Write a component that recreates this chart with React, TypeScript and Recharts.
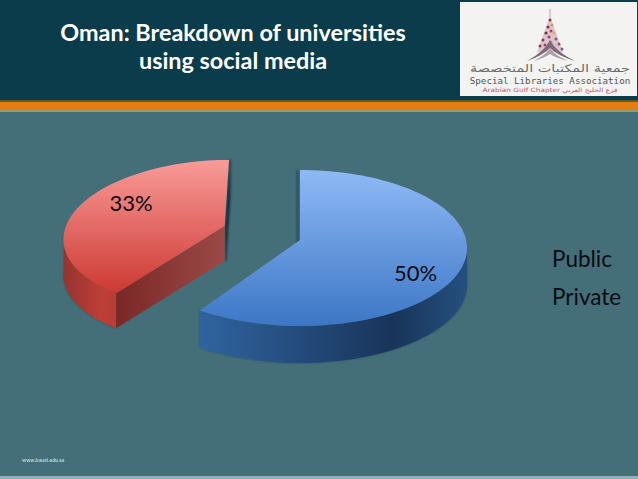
import React from "react";
import { PieChart, Pie, Cell, Legend } from "recharts";

const categories = ["Public", "Private"];
const seriesValues = [50, 33];
const tableData = categories.map((name, i) => ({ name, value: seriesValues[i] }));

const ASPECT = 0.467;
const sliceLook = [
  { offX: 0, offY: 0, rxScale: 1, ryScale: 1, shear: 0, apexDx: 0, depth: 37, backDx: -2.5, top: ["#8fb9f5", "#3c77c6"], wall: ["#30649f", "#19345a", "#25507f"], cut: ["#1d3a60", "#1d3a60"], labelDy: 6, labelR: 0.73 },
  { offX: -82.5, offY: -14, rxScale: 0.92, ryScale: 0.95, shear: 0.155, apexDx: 6, depth: 35, backDx: 1, top: ["#f99b98", "#cd3932"], wall: ["#96332e", "#bd3f37", "#b93c35"], cut: ["#7a2826", "#9c4a47"], labelDy: -18.5, labelR: 0.545 },
];

function SliceShape(props: any) {
  const { cx, cy, outerRadius, startAngle, endAngle, index } = props;
  const look = sliceLook[index];
  const rx = outerRadius * look.rxScale;
  const ry = outerRadius * ASPECT * look.ryScale;
  const ex = cx + look.offX;
  const ey = cy + look.offY;
  const apexY = ey - 8;
  const DEPTH = look.depth;
  const at = (deg: number, d = 0): [number, number] => {
    const a = (deg * Math.PI) / 180;
    const y = ey - ry * Math.sin(a);
    return [ex + rx * Math.cos(a) - look.shear * (y - ey), y + d];
  };
  const apex = (d = 0): [number, number] => [ex - look.shear * (apexY - ey) + look.apexDx, apexY + d];
  const arc = (from: number, to: number, d = 0) => {
    const pts: [number, number][] = [];
    const n = Math.max(2, Math.ceil(Math.abs(to - from) / 2));
    for (let i = 0; i <= n; i++) pts.push(at(from + ((to - from) * i) / n, d));
    return pts;
  };
  const toPath = (pts: [number, number][]) =>
    "M" + pts.map((p) => `${p[0].toFixed(1)},${p[1].toFixed(1)}`).join("L") + "Z";

  const hi = Math.max(startAngle, endAngle);
  const lo = Math.min(startAngle, endAngle);
  const topPts = [apex(), ...arc(hi, lo)];
  const frontFrom = Math.min(hi, 0);
  const frontTo = Math.max(lo, -180);
  const rimTop = arc(frontFrom, frontTo);
  const rimBottom = arc(frontTo, frontFrom, DEPTH);
  const rimXs = rimTop.map((p) => p[0]);
  const id = `s${index}`;
  const hasCut = index === 1;
  const corner = at(hi);
  const cutPts: [number, number][] = [apex(), corner, [corner[0], corner[1] + DEPTH], apex(DEPTH)];
  const backEdge = index === 0 ? at(hi) : at(lo);
  return (
    <g>
      <defs>
        <linearGradient id={`${id}t`} gradientUnits="userSpaceOnUse" x1="0" x2="0" y1={ey - ry} y2={index === 0 ? ey + ry : corner[1]}>
          <stop offset="0" stopColor={look.top[0]} />
          <stop offset="1" stopColor={look.top[1]} />
        </linearGradient>
        <linearGradient id={`${id}w`} gradientUnits="userSpaceOnUse" y1="0" y2="0" x1={Math.min(...rimXs)} x2={Math.max(...rimXs)}>
          <stop offset="0" stopColor={look.wall[0]} />
          <stop offset="0.72" stopColor={look.wall[1]} />
          <stop offset="1" stopColor={look.wall[2]} />
        </linearGradient>
        <linearGradient id={`${id}c`} gradientUnits="userSpaceOnUse" y1="0" y2="0" x1={corner[0]} x2={apex()[0]}>
          <stop offset="0" stopColor={look.cut[0]} />
          <stop offset="1" stopColor={look.cut[1]} />
        </linearGradient>
        <filter id={`${id}b`} filterUnits="userSpaceOnUse" x="0" y="0" width="638" height="479">
          <feGaussianBlur stdDeviation="1.2" />
        </filter>
      </defs>
      <path
        d={toPath([apex(), backEdge, [backEdge[0], backEdge[1] + DEPTH], apex(DEPTH)])}
        fill="#132a38"
        stroke="#132a38"
        strokeWidth={1}
        transform={`translate(${look.backDx},0)`}
        filter={`url(#${id}b)`}
      />
      <path d={toPath([...rimTop, ...rimBottom])} fill="#0d2a36" opacity={0.35} filter={`url(#${id}b)`} />
      <path d={toPath([...rimTop, ...rimBottom])} fill={`url(#${id}w)`} />
      {hasCut && <path d={toPath(cutPts)} fill={`url(#${id}c)`} />}
      <path d={toPath(topPts)} fill={`url(#${id}t)`} />
    </g>
  );
}

function SliceLabel(props: any) {
  const { cx, cy, outerRadius, midAngle, index, value } = props;
  const look = sliceLook[index];
  const a = (midAngle * Math.PI) / 180;
  const x = cx + look.offX + outerRadius * look.labelR * Math.cos(a);
  const y = cy + look.offY - outerRadius * ASPECT * look.labelR * Math.sin(a) + look.labelDy;
  return (
    <text x={x} y={y} textAnchor="middle" dominantBaseline="central" fill="#0a0a12" fontFamily="Lato, sans-serif" fontSize={22}>
      {`${value}%`}
    </text>
  );
}

function LegendContent(props: any) {
  const items = [...(props.payload || [])].sort((a: any, b: any) => categories.indexOf(a.value) - categories.indexOf(b.value));
  return (
    <div style={{ fontFamily: "Lato, sans-serif", fontSize: 22.5, color: "#0a0a12", lineHeight: "38px" }}>
      {items.map((e: any) => (
        <div key={e.value}>{e.value}</div>
      ))}
    </div>
  );
}

const box = (s: React.CSSProperties): React.CSSProperties => ({ position: "absolute", ...s });

function Logo() {
  const dots: [number, number, string][] = [
    [90, 18, "#8a3b5c"], [92, 23, "#c9a24a"], [88, 25, "#7b2d4f"], [91, 29, "#a2456b"], [94, 31, "#d8b45a"],
    [86, 31, "#6e2a4a"], [89, 35, "#9a3e63"], [96, 37, "#7e5a8a"], [83, 38, "#8a3b5c"], [91, 40, "#caa24f"],
    [99, 42, "#8e4a72"], [85, 43, "#a04468"], [95, 44, "#d6b9c4"], [102, 47, "#7e5a8a"], [80, 44, "#8a3b5c"],
  ];
  return (
    <svg width={177} height={94} style={box({ left: 460, top: 2 })}>
      <rect width={177} height={94} fill="#f3f3f2" />
      <line x1="90" y1="7" x2="90" y2="22" stroke="#b99aa8" />
      <polygon points="90,14 103,50 77,50" fill="#dcc3cc" />
      {dots.map((d, i) => (
        <circle key={i} cx={d[0]} cy={d[1]} r={1.5} fill={d[2]} />
      ))}
      <path d="M67,59 Q84,50 90,38 Q96,50 115,59 Q98,54 90,46 Q82,54 67,59Z" fill="#7d6a76" />
      <path d="M74,59 Q85,53 90,47 Q95,53 108,59 Q96,56 90,52 Q84,56 74,59Z" fill="#ab9fa7" />
      <text x="90" y="70" textAnchor="middle" textLength={160} lengthAdjust="spacingAndGlyphs" fontFamily="'DejaVu Sans', sans-serif" fontSize={10.5} fill="#6b6b6b">جمعية المكتبات المتخصصة</text>
      <text x="90" y="81.5" textAnchor="middle" fontFamily="'DejaVu Sans Mono', monospace" fontSize={9.2} fill="#4f555a">Special Libraries Association</text>
      <text x="90" y="90" textAnchor="middle" textLength={135} lengthAdjust="spacingAndGlyphs" fontFamily="'DejaVu Sans', sans-serif" fontSize={5.8} fill="#c0566a">Arabian Gulf Chapter  فرع الخليج العربي</text>
    </svg>
  );
}

export default function App() {
  return (
    <div style={box({ left: 0, top: 0, width: 638, height: 479, overflow: "hidden", background: "#446f78" })}>
      <div style={box({ left: 0, top: 0, width: 638, height: 100, background: "#0a3c4b" })} />
      <div style={box({ left: 0, top: 100, width: 638, height: 2, background: "#5f5a26" })} />
      <div style={box({ left: 0, top: 102, width: 638, height: 8, background: "#e27d10" })} />
      <div style={box({ left: 0, top: 110, width: 638, height: 2, background: "#8f9b79" })} />
      <div style={box({ left: 0, top: 476, width: 638, height: 3, background: "#8fb0b8" })} />
      <div
        style={box({
          left: 30, top: 18, width: 406, textAlign: "center", color: "#ffffff",
          fontFamily: "Lato, sans-serif", fontWeight: 700, fontSize: 23.4, lineHeight: "28px",
        })}
      >
        Oman: Breakdown of universities
        <br />
        using social media
      </div>
      <Logo />
      <div style={box({ left: 22, top: 456, color: "#c3d6dc", fontFamily: "Lato, sans-serif", fontSize: 5.2, fontWeight: 700, lineHeight: "8px" })}>
        www.kaust.edu.sa
      </div>
      <div style={box({ left: 0, top: 0 })}>
        <PieChart width={638} height={479} margin={{ top: 0, right: 0, bottom: 0, left: 0 }}>
          <Pie
            data={tableData}
            dataKey="value"
            nameKey="name"
            cx={300}
            cy={248}
            innerRadius={0}
            outerRadius={167}
            startAngle={90}
            endAngle={-270}
            paddingAngle={0}
            stroke="none"
            shape={SliceShape}
            label={SliceLabel}
            labelLine={false}
            isAnimationActive={false}
          >
            {tableData.map((d) => (
              <Cell key={d.name} />
            ))}
          </Pie>
          <Legend
            layout="vertical"
            align="right"
            verticalAlign="top"
            content={LegendContent}
            wrapperStyle={{ left: 552, top: 240, width: 86, right: "auto" }}
          />
        </PieChart>
      </div>
    </div>
  );
}
